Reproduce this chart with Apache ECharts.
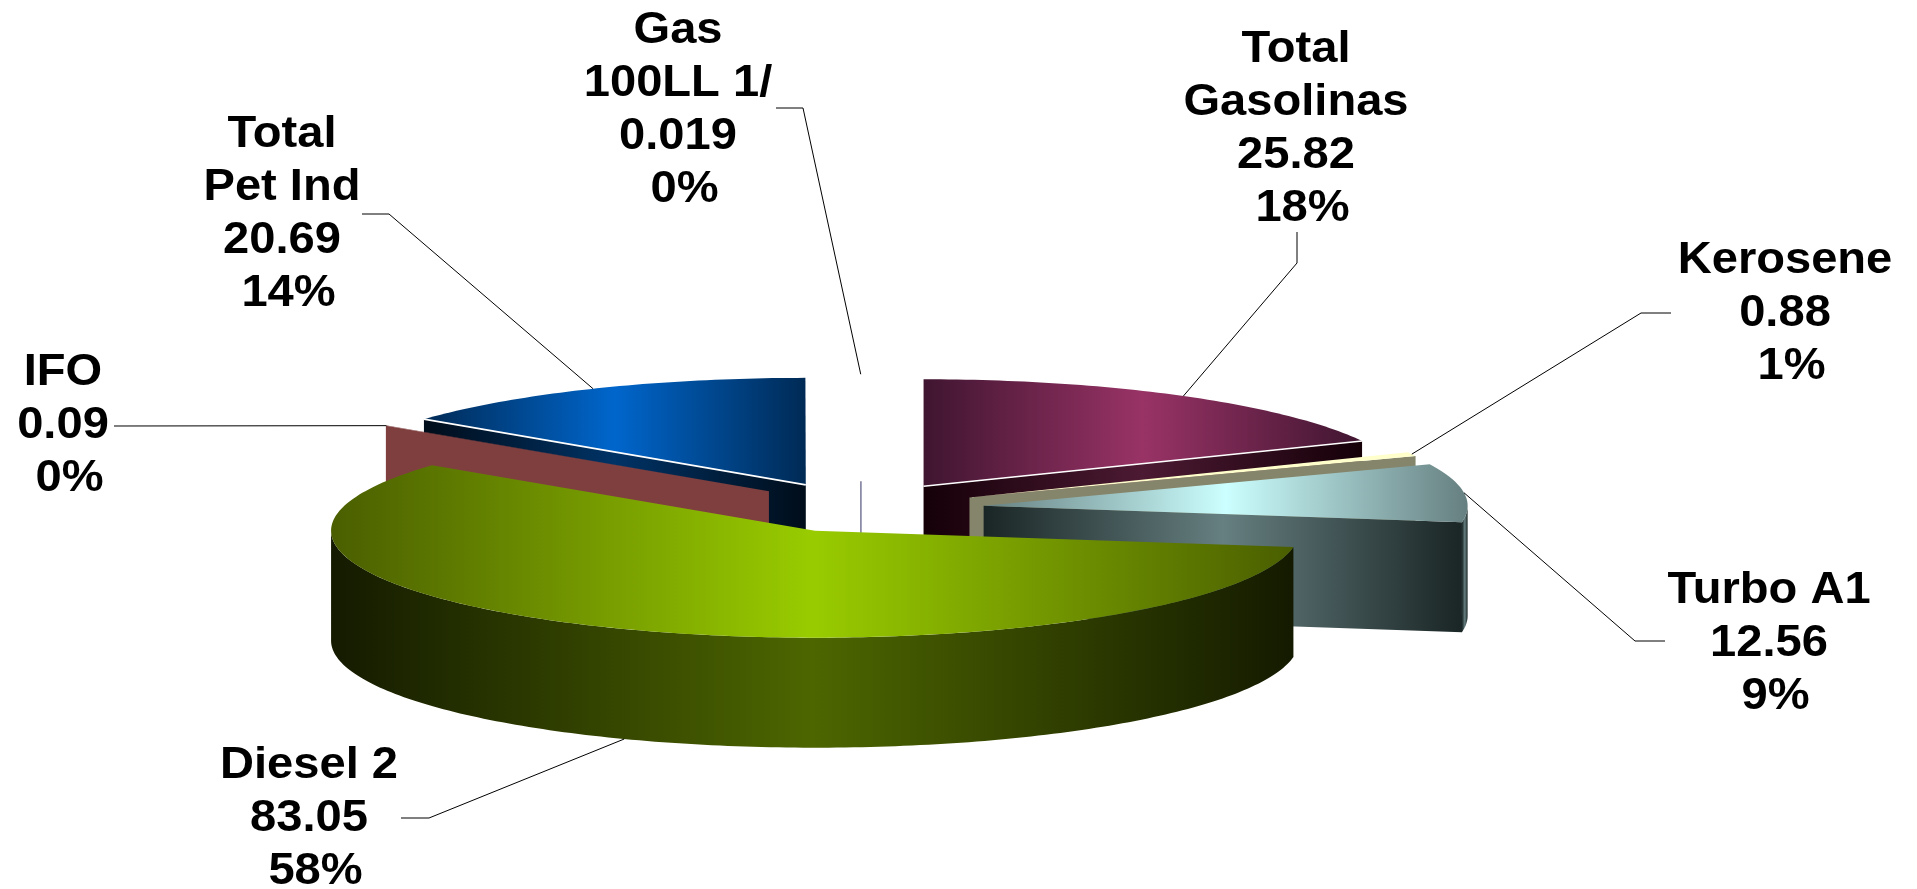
<!DOCTYPE html>
<html>
<head>
<meta charset="utf-8">
<style>html,body{margin:0;padding:0;background:#fff}#c{width:1917px;height:889px}</style>
<script src="https://cdn.jsdelivr.net/npm/echarts@6/dist/echarts.min.js"></script>
</head>
<body>
<div id="c"></div>
<script>
// Data, clockwise from 12 o'clock
const categories = ['Total\nGasolinas', 'Kerosene', 'Turbo A1', 'Diesel 2', 'IFO', 'Total\nPet Ind', 'Gas\n100LL 1/'];
const values = [25.82, 0.88, 12.56, 83.05, 0.09, 20.69, 0.019];

// Colours: [edge, centre] of each horizontal shade
const topColors = [['#3f1530', '#993366'], ['#ffffcc', '#ffffcc'], ['#667f80', '#ccffff'], ['#4a5e00', '#99cc00'], ['#7f3f3f', '#7f3f3f'], ['#002a55', '#0066cc'], ['#ffffff', '#ffffff']];
const sideColors = [['#150008', '#4c1a33'], ['#85856b', '#85856b'], ['#1a2525', '#667f80'], ['#141a00', '#4d6600'], ['#7f3f3f', '#7f3f3f'], ['#000d1a', '#003366'], ['#333366', '#333366']];
const hairlineSlice = [false, false, false, false, false, false, true];
const whiteEdge = [true, false, false, false, false, true, false];
const drawOrder = [0, 5, 6, 1, 4, 2, 3];

// Layout of the 3D pie
const pie = { cx: 861, cy: 507, rx: 484, ry: 107, depth: 110, explode: 116.5 };
const sliceNudge = [[0, 1], [2, 1], [7, 2], [0, 0], [0, 0], [-4, 1], [0, 0]];
// Label block centres and leader knees, same order as categories
const labelCentres = [[1296, 129], [1785, 314], [1769, 644], [309, 819], [63, 426], [282, 214], [678, 110]];
const leaderStarts = [[[1297, 232], [1297, 263]], [[1671, 313], [1641, 313]], [[1665, 641], [1635, 641]], [[401, 818], [429, 818]], [[114, 426]], [[362, 214], [389, 214]], [[776, 108], [803, 108]]];

const total = values.reduce((a, b) => a + b, 0);
const slices = [];
let acc = 0;
values.forEach((v, i) => {
  const a = acc / total * 360;
  acc += v;
  const b = acc / total * 360;
  const m = (a + b) / 2 * Math.PI / 180;
  slices.push({
    a, b, m: (a + b) / 2,
    ax: pie.cx + pie.explode * Math.sin(m) + sliceNudge[i][0],
    ay: pie.cy - pie.explode * Math.cos(m) * pie.ry / pie.rx + sliceNudge[i][1]
  });
});
const rim = (s, deg, dy) => {
  const t = deg * Math.PI / 180;
  return [s.ax + pie.rx * Math.sin(t), s.ay - pie.ry * Math.cos(t) + (dy || 0)];
};
const arc = (s, from, to, dy) => {
  const n = Math.max(1, Math.ceil(Math.abs(to - from)));
  const pts = [];
  for (let k = 0; k <= n; k++) pts.push(rim(s, from + (to - from) * k / n, dy));
  return pts;
};
const shade = c => ({
  type: 'linear', x: 0, y: 0, x2: 1, y2: 0,
  colorStops: [{ offset: 0, color: c[0] }, { offset: 0.5, color: c[1] }, { offset: 1, color: c[0] }]
});
const poly = (points, fill) => ({ type: 'polygon', shape: { points }, style: { fill } });
const radialFace = (s, deg, i) => {
  if (hairlineSlice[i]) {
    return {
      type: 'polyline', shape: { points: [[s.ax, s.ay], [s.ax, s.ay + pie.depth]] },
      style: { stroke: sideColors[i][0], lineWidth: 1, fill: null }
    };
  }
  const r = rim(s, deg);
  return poly([[s.ax, s.ay], r, [r[0], r[1] + pie.depth], [s.ax, s.ay + pie.depth]], shade(sideColors[i]));
};

function renderSlice(params, api) {
  const i = api.value(0);
  const s = slices[i];
  const children = [];
  // outer wall: only the part of the rim that faces the viewer
  const w0 = Math.max(s.a, 90), w1 = Math.min(s.b, 270);
  if (w1 > w0) {
    const top = arc(s, w0, w1, 0);
    const bottom = arc(s, w1, w0, pie.depth);
    children.push(poly(top.concat(bottom), shade(sideColors[i])));
  }
  // cut faces that turn toward the viewer
  if (Math.sin(s.a * Math.PI / 180) < 0) children.push(radialFace(s, s.a, i));
  if (Math.sin(s.b * Math.PI / 180) > 0) children.push(radialFace(s, s.b, i));
  // top face
  children.push(poly([[s.ax, s.ay]].concat(arc(s, s.a, s.b, 0)), shade(topColors[i])));
  // thin white seam along the front radial edge
  if (whiteEdge[i]) {
    const deg = Math.sin(s.a * Math.PI / 180) < 0 ? s.a : s.b;
    children.push({
      type: 'polyline', shape: { points: [[s.ax, s.ay], rim(s, deg)] },
      style: { stroke: '#ffffff', lineWidth: 1.6, fill: null }
    });
  }
  return { type: 'group', children };
}

function renderLabel(params, api) {
  const i = api.value(0);
  const s = slices[i];
  const pct = Math.round(values[i] / total * 100);
  const front = s.m > 90 && s.m < 270;
  const end = rim(s, s.m, front ? pie.depth : 0);
  const c = labelCentres[i];
  return {
    type: 'group',
    children: [
      {
        type: 'polyline', shape: { points: leaderStarts[i].concat([end]) },
        style: { stroke: '#000000', lineWidth: 1, fill: null }
      },
      {
        type: 'text', x: c[0], y: c[1], scaleX: 1.07,
        style: {
          x: 0, y: 0,
          text: categories[i] + '\n' + values[i] + '\n ' + pct + '%',
          align: 'center', verticalAlign: 'middle',
          fontFamily: '"Liberation Sans", Arial, sans-serif',
          fontWeight: 'bold', fontSize: 44, lineHeight: 53, fill: '#000000'
        }
      }
    ]
  };
}

const chart = echarts.init(document.getElementById('c'), null, { renderer: 'canvas' });
chart.setOption({
  backgroundColor: '#ffffff',
  animation: false,
  series: [
    { type: 'custom', coordinateSystem: 'none', silent: true, z: 2, renderItem: renderSlice,
      data: drawOrder.map(i => [i]) },
    { type: 'custom', coordinateSystem: 'none', silent: true, z: 3, renderItem: renderLabel,
      data: categories.map((_, i) => [i]) }
  ]
});
</script>
</body>
</html>
